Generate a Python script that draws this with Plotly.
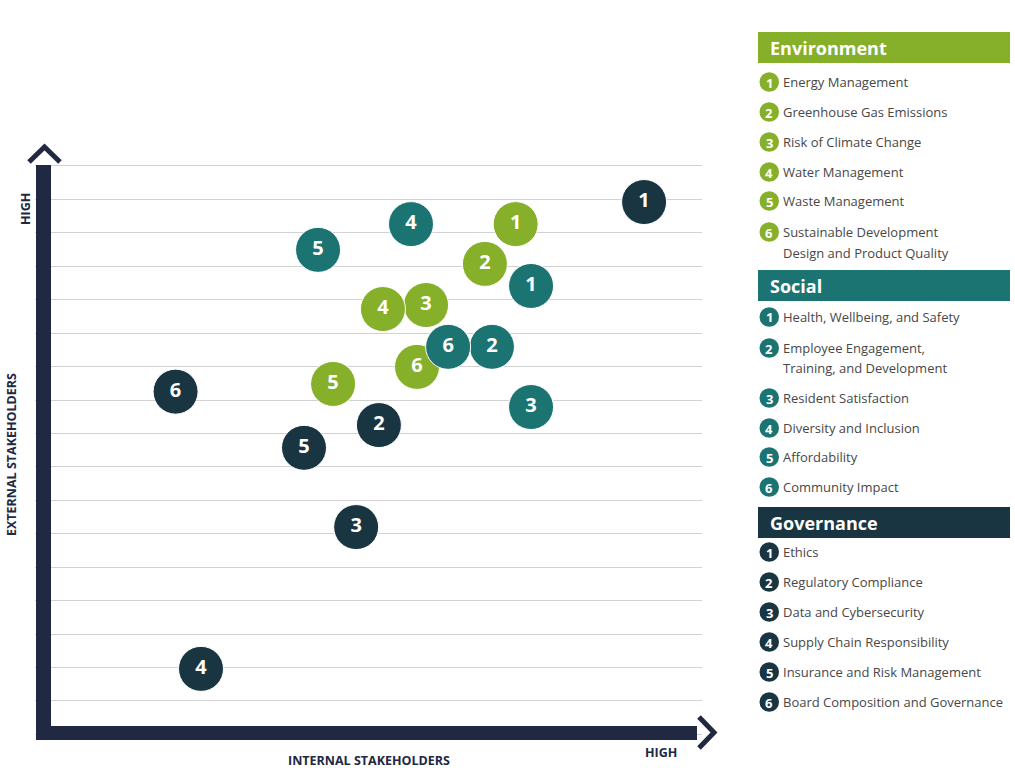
import plotly.graph_objects as go

W, H = 1015, 768

# ---------------- data ----------------
categories = ["Environment", "Social", "Governance"]
colors = ["#86AF2A", "#1B7472", "#193542"]

env_labels = ["Energy Management", "Greenhouse Gas Emissions", "Risk of Climate Change",
              "Water Management", "Waste Management",
              "Sustainable Development<br>Design and Product Quality"]
soc_labels = ["Health, Wellbeing, and Safety", "Employee Engagement,<br>Training, and Development",
              "Resident Satisfaction", "Diversity and Inclusion", "Affordability", "Community Impact"]
gov_labels = ["Ethics", "Regulatory Compliance", "Data and Cybersecurity",
              "Supply Chain Responsibility", "Insurance and Risk Management",
              "Board Composition and Governance"]

numbers = ["1", "2", "3", "4", "5", "6"]

# internal stakeholders (x) / external stakeholders (y), in gridline units
env_x = [14.12, 13.20, 11.44, 10.15, 8.66, 11.17]
env_y = [15.26, 14.07, 12.84, 12.72, 10.48, 10.99]
soc_x = [14.58, 13.41, 14.58, 10.99, 8.21, 12.10]
soc_y = [13.41, 11.59, 9.79, 15.26, 14.49, 11.59]
gov_x = [17.96, 10.03, 9.35, 4.71, 7.79, 3.95]
gov_y = [15.92, 9.25, 6.20, 1.96, 8.57, 10.25]

x_title = "INTERNAL STAKEHOLDERS"
y_title = "EXTERNAL STAKEHOLDERS"
high_label = "HIGH"

# ---------------- helpers ----------------
def px(x):
    return x / W

def py(y):
    return 1 - y / H

NAVY = "#212842"
FONT = "Open Sans"

fig = go.Figure()

series = [(env_x, env_y), (soc_x, soc_y), (gov_x, gov_y)]
for (xs, ys), cat, col in zip(series, categories, colors):
    fig.add_trace(go.Scatter(
        x=xs, y=ys, mode="markers+text", name=cat,
        text=numbers, textposition="middle center",
        textfont=dict(family=FONT, size=20, color="white", weight="bold"),
        marker=dict(size=45, color=col, line=dict(color="white", width=1)),
        cliponaxis=False, hoverinfo="skip", showlegend=False,
    ))

# plot area: x pixels 35..702, y pixels 150..740
x0_px, x1_px = 35, 702
y0_px, y1_px = 740, 150
unit = 33.44
xorig, yorig = 43.5, 734.4

fig.update_layout(
    width=W, height=H, autosize=False,
    margin=dict(l=0, r=0, t=0, b=0, pad=0),
    paper_bgcolor="white", plot_bgcolor="white",
    showlegend=False,
    xaxis=dict(domain=[px(x0_px), px(x1_px)],
               range=[(x0_px - xorig) / unit, (x1_px - xorig) / unit],
               showgrid=False, zeroline=False, showticklabels=False, ticks="",
               showline=False, fixedrange=True),
    yaxis=dict(domain=[py(y0_px), py(y1_px)],
               range=[(yorig - y0_px) / unit, (yorig - y1_px) / unit],
               showgrid=True, gridcolor="#D2D2D2", gridwidth=1,
               tick0=0, dtick=1, zeroline=False, showticklabels=False, ticks="",
               showline=False, fixedrange=True),
)

shapes = []
# axis bars
shapes.append(dict(type="rect", xref="paper", yref="paper",
                   x0=px(36), x1=px(51), y0=py(740), y1=py(165),
                   fillcolor=NAVY, line=dict(width=0), layer="above"))
shapes.append(dict(type="rect", xref="paper", yref="paper",
                   x0=px(36), x1=px(697), y0=py(740), y1=py(726),
                   fillcolor=NAVY, line=dict(width=0), layer="above"))
# chevrons
shapes.append(dict(type="path", xref="paper", yref="paper",
                   path=f"M {px(29)},{py(162)} L {px(44.5)},{py(147)} L {px(60)},{py(162)}",
                   line=dict(color=NAVY, width=5)))
shapes.append(dict(type="path", xref="paper", yref="paper",
                   path=f"M {px(699)},{py(717)} L {px(714)},{py(732.5)} L {px(699)},{py(748)}",
                   line=dict(color=NAVY, width=5)))

annotations = []
axis_font = dict(family=FONT, size=12.5, color=NAVY, weight="bold")
annotations.append(dict(text=high_label, xref="paper", yref="paper", x=px(25), y=py(209),
                        showarrow=False, textangle=-90, xanchor="center", yanchor="middle",
                        borderpad=0, font=axis_font))
annotations.append(dict(text=y_title, xref="paper", yref="paper", x=px(11), y=py(455),
                        showarrow=False, textangle=-90, xanchor="center", yanchor="middle",
                        borderpad=0, font=axis_font))
annotations.append(dict(text=high_label, xref="paper", yref="paper", x=px(661), y=py(752),
                        showarrow=False, xanchor="center", yanchor="middle",
                        borderpad=0, font=axis_font))
annotations.append(dict(text=x_title, xref="paper", yref="paper", x=px(369), y=py(769.5),
                        showarrow=False, xanchor="center", yanchor="bottom",
                        borderpad=0, font=axis_font))

# ---------------- side legend ----------------
header_tops = [32, 270, 507]
item_rows = [
    [82, 112, 142, 172, 201, 232],
    [317, 348, 398, 428, 457, 487],
    [552, 582, 612, 642, 672, 702],
]
all_labels = [env_labels, soc_labels, gov_labels]
for cat, col, top, rows, labels in zip(categories, colors, header_tops, item_rows, all_labels):
    shapes.append(dict(type="rect", xref="paper", yref="paper",
                       x0=px(758), x1=px(1010), y0=py(top + 31), y1=py(top),
                       fillcolor=col, line=dict(width=0)))
    annotations.append(dict(text=cat, xref="paper", yref="paper", x=px(768), y=py(top + 15.5),
                            showarrow=False, xanchor="left", yanchor="middle",
                            font=dict(family=FONT, size=18, color="white", weight="bold")))
    for num, yy, lab in zip(numbers, rows, labels):
        shapes.append(dict(type="circle", xref="paper", yref="paper",
                           x0=px(759.5), x1=px(779), y0=py(yy + 9.75), y1=py(yy - 9.75),
                           fillcolor=col, line=dict(width=0)))
        annotations.append(dict(text=num, xref="paper", yref="paper", x=px(769.3), y=py(yy + 0.5),
                                showarrow=False, xanchor="center", yanchor="middle",
                                font=dict(family=FONT, size=13, color="white", weight="bold")))
        for k, line in enumerate(lab.split("<br>")):
            annotations.append(dict(text=line, xref="paper", yref="paper", x=px(781),
                                    y=py(yy + 20.5 * k), showarrow=False,
                                    xanchor="left", yanchor="middle",
                                    font=dict(family=FONT, size=13, color="#474747")))

fig.update_layout(shapes=shapes, annotations=annotations)

fig.write_html("out.html")
